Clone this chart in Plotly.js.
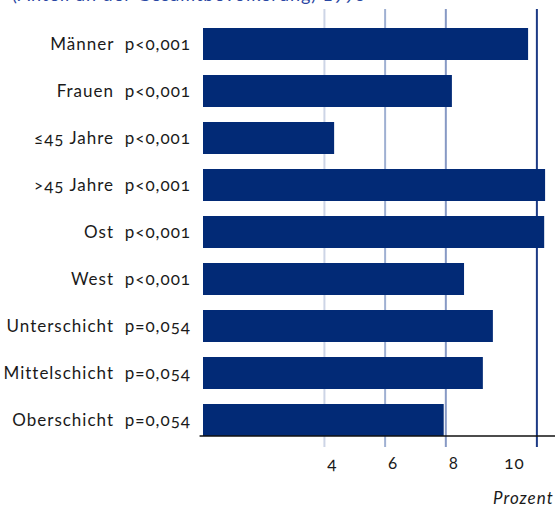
<!DOCTYPE html>
<html>
<head>
<meta charset="utf-8">
<script src="https://cdn.plot.ly/plotly-3.0.1.min.js"></script>
<style>
html,body{margin:0;padding:0;background:#fff;}
#chart{width:555px;height:507px;}
.ytick text,.xtick text,.annotation-text{font-feature-settings:"onum" 1;letter-spacing:1px;}
</style>
</head>
<body>
<div id="chart"></div>
<script>
const groups = ["Männer","Frauen","≤45 Jahre",">45 Jahre","Ost","West","Unterschicht","Mittelschicht","Oberschicht"];
const pValues = ["p<0,001","p<0,001","p<0,001","p<0,001","p<0,001","p<0,001","p=0,054","p=0,054","p=0,054"];
const percent = [10.71, 8.2, 4.32, 11.27, 11.24, 8.6, 9.55, 9.22, 7.93];
const xTickVals = [4, 6, 8, 10];
const xTickText = ["4", "6", "8", "10"];
const gridVals = [4, 6, 8, 11];
const gridColors = ["#cdd5e6", "#9fb0d2", "#8799c4", "#1c3a85"];
const titleText = "(Anteil an der Gesamtbevölkerung) 1998";
const unitLabel = "Prozent";

const labels = groups.map((g, i) => g + "\u00a0\u00a0" + pValues[i]);

const trace = {
  type: "bar",
  orientation: "h",
  x: percent,
  y: labels,
  marker: {color: "#022a76", line: {width: 0}},
  hoverinfo: "x+y"
};

const shapes = gridVals.map((v, i) => ({
  type: "line", xref: "x", yref: "paper", layer: "below",
  x0: v, x1: v, y0: -0.026, y1: 1,
  line: {color: gridColors[i], width: 2}
}));
shapes.push({
  type: "line", xref: "paper", yref: "paper", layer: "above",
  x0: -0.01, x1: 1.05, y0: 0, y1: 0,
  line: {color: "#111111", width: 1.5}
});

const layout = {
  width: 555, height: 507,
  margin: {l: 203, r: 9, t: 9, b: 71, pad: 0},
  paper_bgcolor: "#ffffff", plot_bgcolor: "#ffffff",
  showlegend: false,
  bargap: 0.32,
  font: {family: "Lato, 'Open Sans', sans-serif", size: 17, color: "#1a1a1a"},
  xaxis: {
    range: [0, 11.3], fixedrange: true,
    tickvals: xTickVals, ticktext: xTickText,
    showgrid: false, zeroline: false, showline: false, ticks: "",
    ticklabelshift: 8, ticklabelstandoff: 15,
    tickfont: {size: 17, color: "#1a1a1a"}
  },
  yaxis: {
    type: "category", range: [8.34, -0.745], fixedrange: true,
    showgrid: false, zeroline: false, showline: false, ticks: "",
    ticklabelstandoff: 11,
    tickfont: {size: 17, color: "#1a1a1a"}
  },
  shapes: shapes,
  annotations: [
    {text: titleText, xref: "paper", yref: "paper", x: -0.563, y: 1.034,
     xanchor: "left", yanchor: "middle", showarrow: false,
     font: {size: 18, color: "#2a47a3"}},
    {text: "<i>" + unitLabel + "</i>", xref: "paper", yref: "paper", x: 1.029, y: -0.143,
     xanchor: "right", yanchor: "middle", showarrow: false,
     font: {size: 17, color: "#1a1a1a"}}
  ]
};

Plotly.newPlot("chart", [trace], layout, {displayModeBar: false, staticPlot: true});
</script>
</body>
</html>
